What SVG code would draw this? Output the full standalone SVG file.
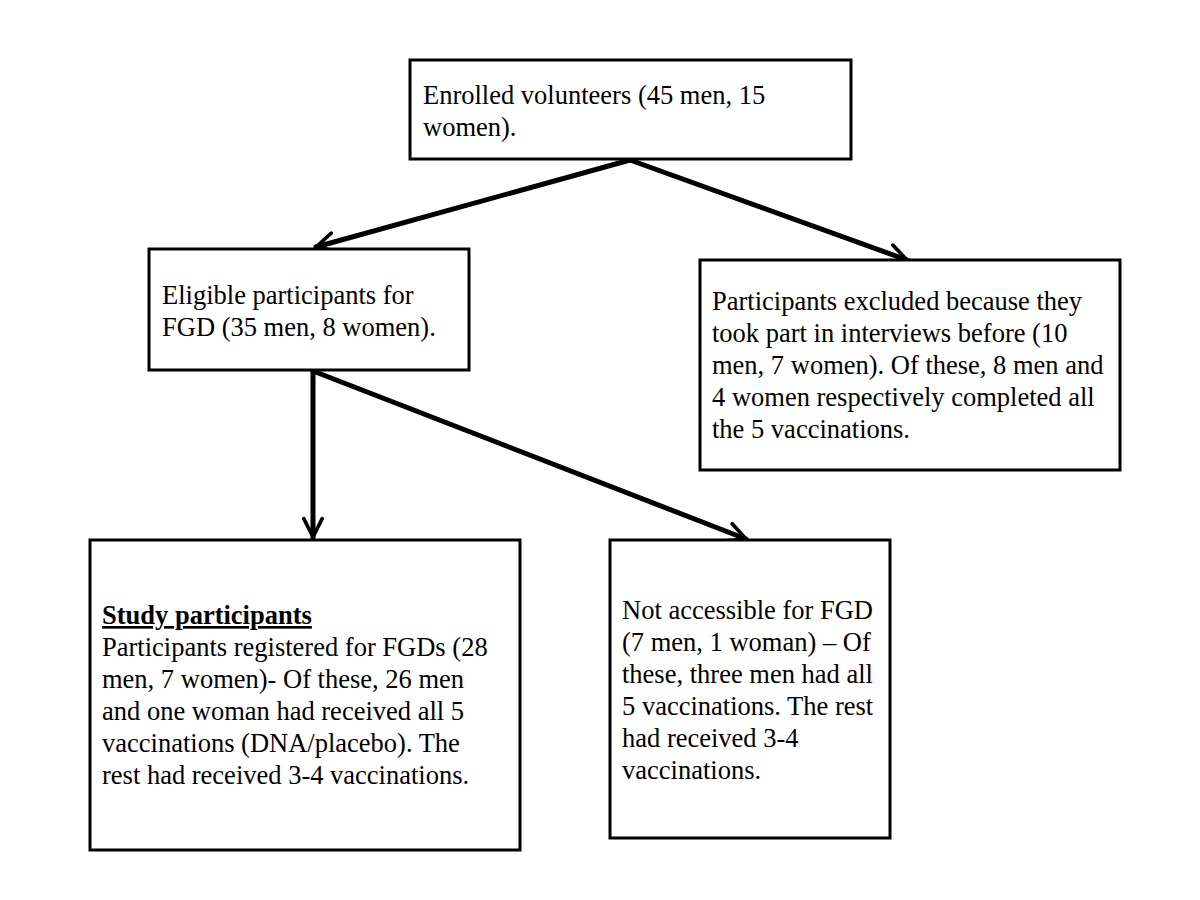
<svg xmlns="http://www.w3.org/2000/svg" width="1200" height="900" viewBox="0 0 1200 900">
<style>
.box{fill:#fff;stroke:#000;stroke-width:3}
.t{font-family:"Liberation Serif","Times New Roman",serif;font-size:26.5px;fill:#000}
.b{font-weight:bold;text-decoration:underline}
.c{stroke:#000;stroke-width:5;fill:none;stroke-linecap:round}
</style>
<defs>
<marker id="ah" viewBox="0 0 10 10" refX="9" refY="5" markerWidth="4.6" markerHeight="4.6" orient="auto" markerUnits="strokeWidth">
<path d="M1,1 L9,5 L1,9" fill="none" stroke="#000" stroke-width="1.6" stroke-linecap="round" stroke-linejoin="round"/>
</marker>
</defs>
<rect width="1200" height="900" fill="#fff"/>
<g id="connectors">
<line class="c" x1="630" y1="160" x2="316" y2="247" marker-end="url(#ah)"/>
<line class="c" x1="630" y1="160" x2="907" y2="260" marker-end="url(#ah)"/>
<line class="c" x1="313" y1="371" x2="313" y2="537" marker-end="url(#ah)"/>
<line class="c" x1="313" y1="371" x2="746" y2="539" marker-end="url(#ah)"/>
</g>
<g id="enrolled">
<rect class="box" x="410" y="60" width="441" height="99"/>
<text class="t" x="423" y="104">Enrolled volunteers (45 men, 15</text>
<text class="t" x="423" y="136">women).</text>
</g>
<g id="eligible">
<rect class="box" x="149" y="249" width="320" height="121"/>
<text class="t" x="162" y="304">Eligible participants for</text>
<text class="t" x="162" y="336">FGD (35 men, 8 women).</text>
</g>
<g id="excluded">
<rect class="box" x="700" y="260" width="420" height="210"/>
<text class="t" x="712" y="310">Participants excluded because they</text>
<text class="t" x="712" y="342">took part in interviews before (10</text>
<text class="t" x="712" y="374">men, 7 women). Of these, 8 men and</text>
<text class="t" x="712" y="406">4 women respectively completed all</text>
<text class="t" x="712" y="438">the 5 vaccinations.</text>
</g>
<g id="study">
<rect class="box" x="90" y="540" width="430" height="310"/>
<text class="t b" x="102" y="624">Study participants</text>
<text class="t" x="102" y="656">Participants registered for FGDs (28</text>
<text class="t" x="102" y="688">men, 7 women)- Of these, 26 men</text>
<text class="t" x="102" y="720">and one woman had received all 5</text>
<text class="t" x="102" y="752">vaccinations (DNA/placebo). The</text>
<text class="t" x="102" y="784">rest had received 3-4 vaccinations.</text>
</g>
<g id="notaccessible">
<rect class="box" x="610" y="540" width="280" height="298"/>
<text class="t" x="622" y="619">Not accessible for FGD</text>
<text class="t" x="622" y="651">(7 men, 1 woman) – Of</text>
<text class="t" x="622" y="683">these, three men had all</text>
<text class="t" x="622" y="715">5 vaccinations. The rest</text>
<text class="t" x="622" y="747">had received 3-4</text>
<text class="t" x="622" y="779">vaccinations.</text>
</g>
</svg>
